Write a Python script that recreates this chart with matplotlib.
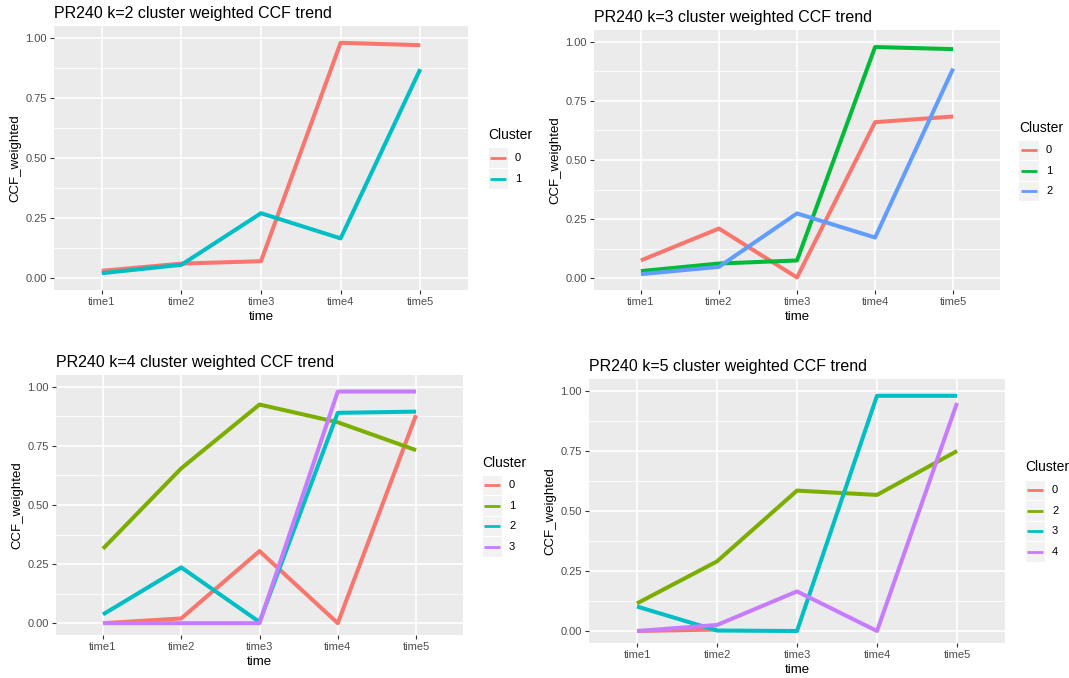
import numpy as np
import matplotlib
matplotlib.use("Agg")
from matplotlib import pyplot as plt
from matplotlib.patches import Rectangle
from matplotlib.lines import Line2D

plt.rcParams['font.family'] = ['Liberation Sans', 'DejaVu Sans']

times = ['time1', 'time2', 'time3', 'time4', 'time5']

# k=2
k2_clusters = ['0', '1']
k2_values = [
    [0.03, 0.06, 0.07, 0.98, 0.97],
    [0.02, 0.055, 0.27, 0.165, 0.87],
]
k2_colors = ['#F8766D', '#00BFC4']

# k=3
k3_clusters = ['0', '1', '2']
k3_values = [
    [0.075, 0.21, 0.003, 0.66, 0.684],
    [0.03, 0.062, 0.075, 0.978, 0.969],
    [0.017, 0.048, 0.274, 0.172, 0.887],
]
k3_colors = ['#F8766D', '#00BA38', '#619CFF']

# k=4
k4_clusters = ['0', '1', '2', '3']
k4_values = [
    [0.0, 0.02, 0.305, 0.0, 0.88],
    [0.315, 0.655, 0.925, 0.85, 0.732],
    [0.037, 0.236, 0.005, 0.89, 0.895],
    [0.0, 0.0, 0.0, 0.98, 0.98],
]
k4_colors = ['#F8766D', '#7CAE00', '#00BFC4', '#C77CFF']

# k=5 (cluster 0 only observed at time1, time2)
k5_clusters = ['0', '2', '3', '4']
k5_values = [
    [0.0, 0.006, None, None, None],
    [0.115, 0.29, 0.585, 0.567, 0.75],
    [0.102, 0.002, 0.0, 0.98, 0.98],
    [0.0, 0.025, 0.165, 0.0, 0.95],
]
k5_colors = ['#F8766D', '#7CAE00', '#00BFC4', '#C77CFF']

W, H = 1069, 678
fig = plt.figure(figsize=(W / 100, H / 100), dpi=100)


def px_axes(x0, y0, x1, y1):
    # pixel box (top-left origin) -> figure axes
    return fig.add_axes([x0 / W, 1 - y1 / H, (x1 - x0) / W, (y1 - y0) / H])


def panel(box, title, clusters, values, colors, leg):
    ax = px_axes(*box)
    ax.set_facecolor('#EBEBEB')
    x = np.arange(1, len(times) + 1)
    # scale limits 0..1 with ggplot's 5% expansion
    ax.set_xlim(0.4, len(times) + 0.6)
    ax.set_ylim(-0.05, 1.05)
    ax.set_xticks(x)
    ax.set_xticklabels(times)
    ax.set_yticks([0, 0.25, 0.5, 0.75, 1.0])
    ax.set_yticklabels(['0.00', '0.25', '0.50', '0.75', '1.00'])
    ax.set_yticks([0.125, 0.375, 0.625, 0.875], minor=True)
    ax.grid(which='major', color='white', linewidth=1.2)
    ax.grid(which='minor', axis='y', color='white', linewidth=0.6)
    ax.set_axisbelow(True)
    for s in ax.spines.values():
        s.set_visible(False)
    ax.tick_params(axis='both', which='major', colors='#333333', length=3,
                   width=0.8, labelsize=8, labelcolor='#4D4D4D', pad=2)
    ax.tick_params(axis='y', which='minor', length=0)
    for vals, c in zip(values, colors):
        xs = [xi for xi, v in zip(x, vals) if v is not None]
        ys = [v for v in vals if v is not None]
        ax.plot(xs, ys, color=c, linewidth=2.9, solid_capstyle='butt')
    ax.set_title(title, loc='left', fontsize=11.5, pad=6)
    ax.set_xlabel('time', fontsize=9.5, labelpad=3)
    ax.set_ylabel('CCF_weighted', fontsize=9.5, labelpad=3)

    # ggplot style legend
    lx, ty, ky = leg
    fig.text(lx / W, 1 - ty / H, 'Cluster', fontsize=10, va='center', ha='left')
    kw, kh = 20, 20.5
    for i, (lab, c) in enumerate(zip(clusters, colors)):
        y0 = ky + i * kh
        fig.add_artist(Rectangle(((lx + 0.5) / W, 1 - (y0 + kh - 0.5) / H),
                                 (kw - 1) / W, (kh - 1) / H,
                                 transform=fig.transFigure, facecolor='#F2F2F2',
                                 edgecolor='none'))
        yc = 1 - (y0 + kh / 2) / H
        fig.add_artist(Line2D([(lx + 2) / W, (lx + kw - 2) / W], [yc, yc],
                              transform=fig.transFigure, color=c, linewidth=2,
                              solid_capstyle='butt'))
        fig.text((lx + kw + 7) / W, yc, lab, fontsize=8, va='center', ha='left')
    return ax


panel((54, 26, 468, 290), 'PR240 k=2 cluster weighted CCF trend',
      k2_clusters, k2_values, k2_colors, (488, 135, 148))
panel((594, 30, 1000, 290), 'PR240 k=3 cluster weighted CCF trend',
      k3_clusters, k3_values, k3_colors, (1019, 128, 140))
panel((56, 375, 463, 635), 'PR240 k=4 cluster weighted CCF trend',
      k4_clusters, k4_values, k4_colors, (482, 463, 475))
panel((589, 379, 1005, 643), 'PR240 k=5 cluster weighted CCF trend',
      k5_clusters, k5_values, k5_colors, (1025, 467, 480))

fig.savefig('out.png', dpi=100, facecolor='white')
